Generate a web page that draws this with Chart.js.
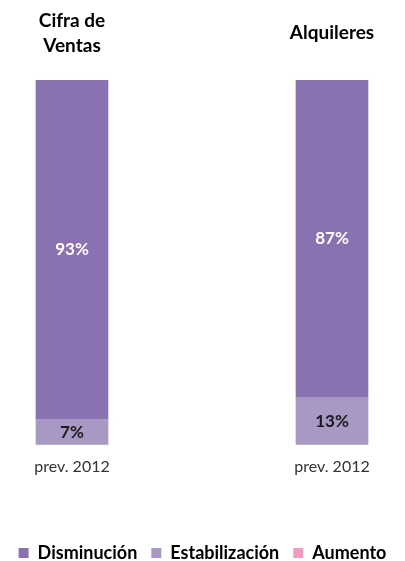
<!DOCTYPE html>
<html><head><meta charset="utf-8">
<script src="https://cdn.jsdelivr.net/npm/chart.js@4"></script>
<style>html,body{margin:0;padding:0;background:#fff}canvas{display:block}</style>
</head><body>
<canvas id="c" width="405" height="561"></canvas>
<script>
const categories = ['prev. 2012', 'prev. 2012'];
const panelTitles = [['Cifra de', 'Ventas'], ['Alquileres']];
const disminucion = [93, 87];
const estabilizacion = [7, 13];
const aumento = [0, 0];
const legendOrder = ['Disminución', 'Estabilización', 'Aumento'];

const FONT = 'Lato, "Open Sans", sans-serif';
const pts = arr => arr.map((v, i) => ({ x: i, y: v }));

const titlePlugin = {
  id: 'panelTitles',
  afterDraw(chart) {
    const ctx = chart.ctx;
    const xs = chart.scales.x;
    ctx.save();
    ctx.font = 'bold 19px ' + FONT;
    ctx.fillStyle = '#000';
    ctx.textAlign = 'center';
    ctx.textBaseline = 'middle';
    panelTitles.forEach((lines, i) => {
      const x = xs.getPixelForValue(i);
      const lh = 25;
      const centerY = 33;
      const start = centerY - (lines.length - 1) * lh / 2;
      lines.forEach((t, j) => ctx.fillText(t, x, start + j * lh));
    });
    ctx.restore();
  }
};

const valueLabels = {
  id: 'valueLabels',
  afterDatasetsDraw(chart) {
    const ctx = chart.ctx;
    ctx.save();
    ctx.font = 'bold 17px ' + FONT;
    ctx.textAlign = 'center';
    ctx.textBaseline = 'middle';
    chart.data.datasets.forEach((ds, di) => {
      const meta = chart.getDatasetMeta(di);
      meta.data.forEach((bar, i) => {
        const v = ds.data[i].y;
        if (!v) return;
        ctx.fillStyle = ds.label === 'Disminución' ? '#ffffff' : '#1a1a1a';
        const y = (bar.y + bar.base) / 2;
        ctx.fillText(v + '%', bar.x, y);
      });
    });
    ctx.restore();
  }
};

new Chart(document.getElementById('c'), {
  type: 'bar',
  data: {
    datasets: [
      { label: 'Estabilización', data: pts(estabilizacion), backgroundColor: '#A899C4' },
      { label: 'Disminución', data: pts(disminucion), backgroundColor: '#8A72B2' },
      { label: 'Aumento', data: pts(aumento), backgroundColor: '#F49AC2' }
    ]
  },
  options: {
    responsive: false,
    animation: false,
    devicePixelRatio: 1,
    barThickness: 72,
    layout: { padding: { left: 0, right: 0, top: 80, bottom: -11 } },
    scales: {
      x: {
        type: 'linear',
        stacked: true,
        offset: false,
        min: -0.2769,
        max: 1.2808,
        afterBuildTicks: s => { s.ticks = categories.map((c, i) => ({ value: i })); },
        afterFit: s => { s.height += 42; },
        grid: { display: false, drawTicks: false, offset: false },
        border: { display: false },
        ticks: {
          color: '#333', font: { size: 16, family: FONT }, padding: 12, maxRotation: 0, autoSkip: false,
          callback: v => categories[v]
        }
      },
      y: {
        stacked: true,
        display: false,
        min: 0, max: 100
      }
    },
    plugins: {
      legend: {
        position: 'bottom',
        labels: {
          color: '#000',
          font: { size: 18, weight: 'bold', family: FONT },
          boxWidth: 10, boxHeight: 10, padding: 14,
          sort: (a, b) => legendOrder.indexOf(a.text) - legendOrder.indexOf(b.text)
        }
      },
      tooltip: { enabled: false }
    }
  },
  plugins: [titlePlugin, valueLabels]
});
</script>
</body></html>
